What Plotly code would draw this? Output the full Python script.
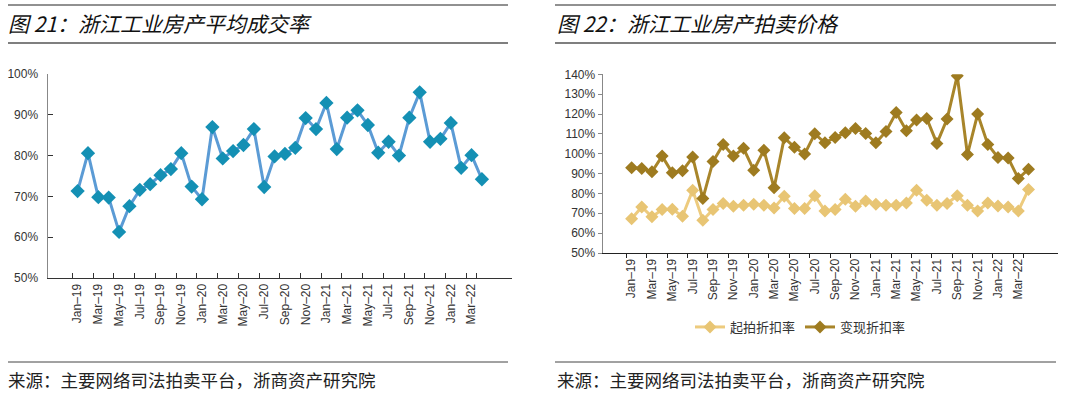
import plotly.graph_objects as go

months = ["Jan-19","Feb-19","Mar-19","Apr-19","May-19","Jun-19","Jul-19","Aug-19","Sep-19","Oct-19","Nov-19","Dec-19",
          "Jan-20","Feb-20","Mar-20","Apr-20","May-20","Jun-20","Jul-20","Aug-20","Sep-20","Oct-20","Nov-20","Dec-20",
          "Jan-21","Feb-21","Mar-21","Apr-21","May-21","Jun-21","Jul-21","Aug-21","Sep-21","Oct-21","Nov-21","Dec-21",
          "Jan-22","Feb-22","Mar-22","Apr-22"]
tick_labels = ["Jan\u201319","Mar\u201319","May\u201319","Jul\u201319","Sep\u201319","Nov\u201319",
               "Jan\u201320","Mar\u201320","May\u201320","Jul\u201320","Sep\u201320","Nov\u201320",
               "Jan\u201321","Mar\u201321","May\u201321","Jul\u201321","Sep\u201321","Nov\u201321",
               "Jan\u201322","Mar\u201322"]

left_y_ticks = [50, 60, 70, 80, 90, 100]
right_y_ticks = [50, 60, 70, 80, 90, 100, 110, 120, 130, 140]

deal_rate = [71.3,80.6,69.8,69.7,61.3,67.6,71.6,73.0,75.2,76.7,80.6,72.4,
             69.3,87.0,79.3,81.1,82.6,86.5,72.3,79.8,80.4,81.9,89.2,86.5,
             92.9,81.6,89.3,91.1,87.5,80.7,83.4,80.0,89.3,95.5,83.4,84.1,
             88.0,77.0,80.1,74.2]

start_discount = [67.3,73.2,68.2,71.9,72.0,68.5,81.6,66.5,71.9,74.9,73.5,74.0,
                  74.6,74.0,72.7,78.6,72.4,72.4,78.8,71.2,71.9,77.1,73.5,76.2,
                  74.6,74.0,74.0,75.2,81.6,76.6,74.0,74.9,78.8,74.0,71.2,75.2,
                  73.7,73.2,71.2,82.0]

realized_discount = [92.9,92.6,90.9,98.8,90.4,91.4,98.3,77.4,96.1,104.7,98.8,102.7,
                     91.7,101.8,82.8,108.0,103.3,99.8,110.0,105.5,108.2,110.6,112.7,110.2,
                     105.5,111.2,120.7,111.6,117.0,117.8,105.2,117.5,139.3,99.6,120.0,104.7,
                     98.1,97.9,87.5,92.2]

left_title = "图 21：浙江工业房产平均成交率"
right_title = "图 22：浙江工业房产拍卖价格"
source_text = "来源：主要网络司法拍卖平台，浙商资产研究院"
series_names = ["起拍折扣率", "变现折扣率"]

W, H = 1080, 394
def px(x): return x / W
def py(y): return 1 - y / H

CJK = "Noto Sans CJK SC"
NUM = "Liberation Sans, Arial"

fig = go.Figure()

fig.add_trace(go.Scatter(
    x=months, y=deal_rate, mode="lines+markers", xaxis="x", yaxis="y",
    line=dict(color="#5B9BD5", width=3),
    marker=dict(symbol="diamond", size=11, color="#1490B4"),
    showlegend=False))

fig.add_trace(go.Scatter(
    x=months, y=start_discount, mode="lines+markers", xaxis="x2", yaxis="y2",
    name=series_names[0],
    line=dict(color="#EDCB7E", width=3),
    marker=dict(symbol="diamond", size=10, color="#E8C574")))

fig.add_trace(go.Scatter(
    x=months, y=realized_discount, mode="lines+markers", xaxis="x2", yaxis="y2",
    name=series_names[1],
    line=dict(color="#A8852A", width=3),
    marker=dict(symbol="diamond", size=10, color="#9E7B20")))

axis_common = dict(showgrid=False, zeroline=False, showline=True, linewidth=1, automargin=False)

fig.update_layout(
    width=W, height=H,
    margin=dict(l=0, r=0, t=0, b=0, autoexpand=False),
    paper_bgcolor="white", plot_bgcolor="white",
    xaxis=dict(**axis_common, domain=[px(47.5), px(512)], anchor="y",
               type="category", categoryorder="array", categoryarray=months,
               tickmode="array", tickvals=months[::2], ticktext=tick_labels,
               tickson="boundaries", ticks="inside", ticklen=5, tickcolor="#333",
               linecolor="#333", tickangle=-90,
               tickfont=dict(family=NUM, size=12, color="#333")),
    yaxis=dict(**axis_common, domain=[py(278), py(74)], anchor="x",
               range=[50, 100], tickmode="array", tickvals=left_y_ticks,
               ticktext=[f"{v}%" for v in left_y_ticks],
               ticks="inside", ticklen=5, tickcolor="#333", linecolor="#888",
               ticklabelstandoff=6,
               tickfont=dict(family=NUM, size=12, color="#333")),
    xaxis2=dict(**axis_common, domain=[px(602.6), px(1057.5)], anchor="y2",
                type="category", categoryorder="array", categoryarray=months,
                tickmode="array", tickvals=months[::2], ticktext=tick_labels,
                tickson="boundaries", ticks="outside", ticklen=4, tickcolor="#222",
                linecolor="#222", tickangle=-90,
                tickfont=dict(family=NUM, size=12, color="#333")),
    yaxis2=dict(**axis_common, domain=[py(253), py(74.3)], anchor="x2",
                range=[50, 140], tickmode="array", tickvals=right_y_ticks,
                ticktext=[f"{v}%" for v in right_y_ticks],
                ticks="outside", ticklen=4, tickcolor="#888", linecolor="#888",
                tickfont=dict(family=NUM, size=12, color="#333")),
    legend=dict(orientation="h", x=px(690), y=py(327), xanchor="left", yanchor="middle",
                font=dict(family=CJK, size=13, color="#333"),
                itemwidth=30, tracegroupgap=0, bgcolor="rgba(0,0,0,0)"),
    font=dict(family=CJK),
)

shapes = []
for x0, x1 in [(8, 508), (555, 1056)]:
    shapes.append(dict(type="line", xref="paper", yref="paper", x0=px(x0), x1=px(x1),
                       y0=py(5), y1=py(5), line=dict(color="#222", width=1)))
    shapes.append(dict(type="line", xref="paper", yref="paper", x0=px(x0), x1=px(x1),
                       y0=py(43), y1=py(43), line=dict(color="#7F7F7F", width=2)))
    shapes.append(dict(type="line", xref="paper", yref="paper", x0=px(x0), x1=px(x1),
                       y0=py(362), y1=py(362), line=dict(color="#444", width=1)))
fig.update_layout(shapes=shapes)

ann = []
for x0, t in [(6, left_title), (555, right_title)]:
    ann.append(dict(xref="paper", yref="paper", x=px(x0), y=py(23), xanchor="left", yanchor="middle",
                    text="<i>" + t + "</i>", showarrow=False,
                    font=dict(family=CJK, size=21, color="#111")))
for x0 in (6, 555):
    ann.append(dict(xref="paper", yref="paper", x=px(x0), y=py(379), xanchor="left", yanchor="middle",
                    text=source_text, showarrow=False,
                    font=dict(family=CJK, size=17.5, color="#222")))
fig.update_layout(annotations=ann)

fig.write_html("out.html",
               config={"displayModeBar": False},
               post_script="document.body.style.margin='0';document.body.style.overflow='hidden';")
